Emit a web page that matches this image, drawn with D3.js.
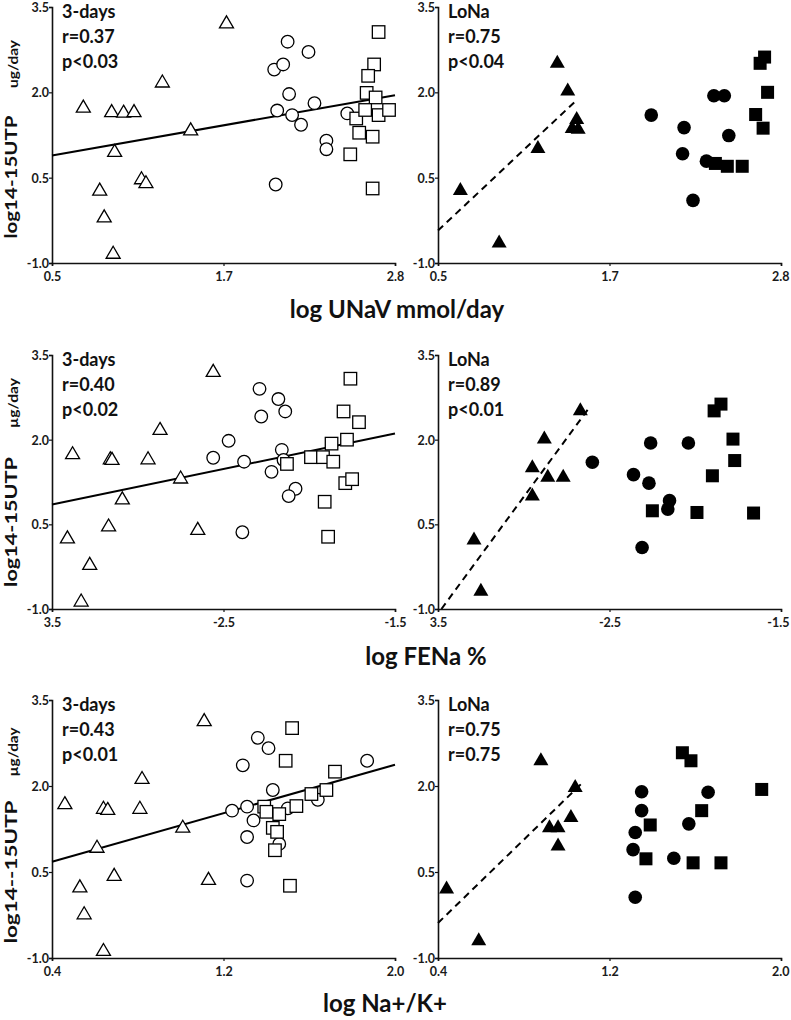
<!DOCTYPE html>
<html><head><meta charset="utf-8">
<script src="https://cdn.jsdelivr.net/npm/d3@7"></script>
<style>body{margin:0;background:#fff}svg{display:block}</style>
</head><body>
<svg id="chart" width="791" height="1020"></svg>
<script>
// ---------- shared y axis ----------
const yTicks = [-1, 0.5, 2, 3.5];
const yTickLabels = ["-1.0", "0.5", "2.0", "3.5"];

// ---------- row 1 : log UNaV ----------
const unavDomain = [0.5, 2.8];
const unavTicks = [0.5, 1.65, 2.8];
const unavTickLabels = ["0.5", "1.7", "2.8"];
const unav3dTriangles = [[0.71,1.75],[0.90,1.67],[0.98,1.66],[1.05,1.67],[1.24,2.19],[1.43,1.35],[1.67,3.23],[0.92,0.97],[1.10,0.49],[1.13,0.42],[0.82,0.29],[0.85,-0.18],[0.91,-0.82]];
const unav3dCircles = [[1.99,2.40],[2.05,2.49],[2.08,2.89],[2.22,2.71],[2.09,1.97],[2.01,1.68],[2.11,1.60],[2.26,1.81],[2.17,1.43],[2.34,1.15],[2.34,1.00],[2.48,1.63],[2.00,0.38]];
const unav3dSquares = [[2.69,3.06],[2.66,2.49],[2.62,2.29],[2.61,1.99],[2.67,1.91],[2.54,1.54],[2.60,1.69],[2.69,1.60],[2.76,1.69],[2.56,1.29],[2.65,1.22],[2.50,0.91],[2.65,0.31]];
const unav3dFit = [[0.5,0.89],[2.8,1.95]];
const unav3dText = ["3-days", "r=0.37", "p<0.03"];
const unavLoNaTriangles = [[1.30,2.53],[1.37,2.04],[1.43,1.54],[1.40,1.38],[1.44,1.37],[1.17,1.03],[0.65,0.29],[0.91,-0.63]];
const unavLoNaCircles = [[1.93,1.60],[2.15,1.38],[2.14,0.92],[2.35,1.94],[2.42,1.94],[2.45,1.24],[2.30,0.79],[2.21,0.10]];
const unavLoNaSquares = [[2.69,2.62],[2.66,2.51],[2.71,2.00],[2.63,1.61],[2.68,1.37],[2.36,0.75],[2.44,0.70],[2.54,0.70]];
const unavLoNaFit = [[0.5,-0.43],[1.42,1.84]];
const unavLoNaText = ["LoNa", "r=0.75", "p<0.04"];

// ---------- row 2 : log FENa ----------
const fenaDomain = [-3.5, -1.5];
const fenaTicks = [-3.5, -2.5, -1.5];
const fenaTickLabels = ["3.5", "-2.5", "-1.5"];
const fena3dTriangles = [[-2.56,3.22],[-3.38,1.76],[-3.16,1.67],[-3.15,1.66],[-2.94,1.67],[-2.87,2.19],[-2.75,1.33],[-3.09,0.96],[-3.17,0.48],[-2.65,0.42],[-3.41,0.27],[-3.28,-0.20],[-3.33,-0.85]];
const fena3dCircles = [[-2.29,2.90],[-2.18,2.72],[-2.14,2.50],[-2.28,2.41],[-2.47,1.98],[-2.56,1.68],[-2.38,1.61],[-2.16,1.82],[-2.15,1.64],[-2.22,1.43],[-2.08,1.13],[-2.12,1.00],[-2.39,0.36]];
const fena3dSquares = [[-1.76,3.08],[-1.80,2.50],[-1.71,2.31],[-1.78,2.00],[-1.87,1.93],[-2.13,1.57],[-1.99,1.69],[-1.92,1.69],[-1.86,1.61],[-1.79,1.23],[-1.75,1.30],[-1.91,0.90],[-1.89,0.28]];
const fena3dFit = [[-3.5,0.85],[-1.5,2.11]];
const fena3dText = ["3-days", "r=0.40", "p<0.02"];
const fenaLoNaTriangles = [[-2.67,2.53],[-2.88,2.03],[-2.95,1.52],[-2.86,1.35],[-2.77,1.35],[-2.95,1.02],[-3.29,0.24],[-3.25,-0.67]];
const fenaLoNaCircles = [[-2.60,1.60],[-2.26,1.94],[-2.04,1.94],[-2.36,1.38],[-2.27,1.23],[-2.15,0.92],[-2.16,0.77],[-2.31,0.09]];
const fenaLoNaSquares = [[-1.85,2.63],[-1.89,2.51],[-1.78,2.01],[-1.77,1.63],[-1.90,1.36],[-2.25,0.74],[-1.99,0.71],[-1.66,0.70]];
const fenaLoNaFit = [[-3.48,-1.0],[-2.62,2.56]];
const fenaLoNaText = ["LoNa", "r=0.89", "p<0.01"];

// ---------- row 3 : log Na+/K+ ----------
const nakDomain = [0.4, 2.0];
const nakTicks = [0.4, 1.2, 2.0];
const nakTickLabels = ["0.4", "1.2", "2.0"];
const nak3dTriangles = [[1.11,3.15],[0.46,1.70],[0.64,1.62],[0.66,1.60],[0.81,1.62],[0.82,2.14],[1.01,1.29],[0.61,0.94],[0.69,0.45],[1.13,0.38],[0.53,0.25],[0.55,-0.22],[0.64,-0.86]];
const nak3dCircles = [[1.36,2.84],[1.41,2.66],[1.29,2.36],[1.87,2.44],[1.43,1.93],[1.24,1.57],[1.31,1.64],[1.34,1.40],[1.31,1.11],[1.46,0.99],[1.64,1.76],[1.50,1.61],[1.31,0.35]];
const nak3dSquares = [[1.52,3.01],[1.49,2.44],[1.72,2.25],[1.68,1.93],[1.61,1.86],[1.54,1.65],[1.39,1.64],[1.40,1.55],[1.46,1.51],[1.43,1.27],[1.45,1.20],[1.44,0.88],[1.51,0.26]];
const nak3dFit = [[0.4,0.68],[2.0,2.37]];
const nak3dText = ["3-days", "r=0.43", "p<0.01"];
const nakLoNaTriangles = [[0.88,2.46],[1.04,1.99],[1.02,1.47],[0.92,1.29],[0.96,1.29],[0.96,0.97],[0.44,0.22],[0.59,-0.68]];
const nakLoNaCircles = [[1.35,1.90],[1.35,1.57],[1.32,1.19],[1.31,0.89],[1.32,0.06],[1.57,1.34],[1.66,1.89],[1.50,0.74]];
const nakLoNaSquares = [[1.54,2.58],[1.58,2.44],[1.91,1.94],[1.63,1.57],[1.39,1.32],[1.37,0.73],[1.59,0.66],[1.72,0.66]];
const nakLoNaFit = [[0.4,-0.39],[1.08,2.08]];
const nakLoNaText = ["LoNa", "r=0.75", "r=0.75"];

// ---------- titles ----------
const xTitles = ["log UNaV mmol/day", "log FENa %", "log Na+/K+"];
const yTitles = ["log14-15UTP", "log14-15UTP", "log14--15UTP"];
const yUnits = ["ug/day", "\u00b5g/day", "\u00b5g/day"];

// ---------- assemble ----------
const rowsData = [
  {domain: unavDomain, ticks: unavTicks, tickLabels: unavTickLabels,
   left: {tri: unav3dTriangles, cir: unav3dCircles, sq: unav3dSquares, fit: unav3dFit, text: unav3dText},
   right: {tri: unavLoNaTriangles, cir: unavLoNaCircles, sq: unavLoNaSquares, fit: unavLoNaFit, text: unavLoNaText}},
  {domain: fenaDomain, ticks: fenaTicks, tickLabels: fenaTickLabels,
   left: {tri: fena3dTriangles, cir: fena3dCircles, sq: fena3dSquares, fit: fena3dFit, text: fena3dText},
   right: {tri: fenaLoNaTriangles, cir: fenaLoNaCircles, sq: fenaLoNaSquares, fit: fenaLoNaFit, text: fenaLoNaText}},
  {domain: nakDomain, ticks: nakTicks, tickLabels: nakTickLabels,
   left: {tri: nak3dTriangles, cir: nak3dCircles, sq: nak3dSquares, fit: nak3dFit, text: nak3dText},
   right: {tri: nakLoNaTriangles, cir: nakLoNaCircles, sq: nakLoNaSquares, fit: nakLoNaFit, text: nakLoNaText}}
];

// layout (pixels)
const rowY = [[263, 7], [609, 355], [958, 700]];
const colX = [[52, 395], [438, 781]];
const xTitlePos = [[397, 318], [426, 665], [385, 1012]];
const yTitleCenter = [177, 522, 872];
const yTitleLen = [123, 130, 143];
const yUnitCenter = [64, 403, 752];
const yUnitLen = [48, 50, 49];

const FONT = "Lato, 'Open Sans', sans-serif";
const svg = d3.select("#chart");

const triOpen = "M0,-6.5L7,5.5L-7,5.5Z";
const triFill = "M0,-7.5L7.5,5.5L-7.5,5.5Z";

rowsData.forEach((row, ri) => {
  ["left", "right"].forEach((side, ci) => {
    const p = row[side];
    const filled = side === "right";
    const x = d3.scaleLinear().domain(row.domain).range(colX[ci]);
    const y = d3.scaleLinear().domain([-1, 3.5]).range(rowY[ri]);
    const g = svg.append("g");

    // y axis
    const ya = d3.axisLeft(y).tickValues(yTicks).tickSize(3)
      .tickFormat((d, i) => yTickLabels[i]);
    const yg = g.append("g").attr("transform", `translate(${colX[ci][0]},0)`).call(ya);
    yg.select(".domain").attr("stroke", "#111").attr("stroke-width", 1.6);
    yg.selectAll(".tick line").attr("stroke", "#111").attr("stroke-width", 1.2);
    yg.selectAll(".tick text").attr("font-family", FONT).attr("font-weight", "bold")
      .attr("font-size", 12.5).attr("fill", "#1a1a1a").attr("x", -3).attr("dy", "0.36em");

    // x axis
    const xa = d3.axisBottom(x).tickValues(row.ticks).tickSize(3)
      .tickFormat((d, i) => row.tickLabels[i]);
    const xg = g.append("g").attr("transform", `translate(0,${rowY[ri][0]})`).call(xa);
    xg.select(".domain").attr("stroke", "#111").attr("stroke-width", 1.6);
    xg.selectAll(".tick line").attr("stroke", "#111").attr("stroke-width", 1.2);
    xg.selectAll(".tick text").attr("font-family", FONT).attr("font-weight", "bold")
      .attr("font-size", 12.5).attr("fill", "#1a1a1a").attr("y", 9);
    if (filled) {
      // keep the last label inside the page
      xg.selectAll(".tick text").filter((d, i) => i === row.ticks.length - 1)
        .attr("text-anchor", "end").attr("x", 8);
    }

    // fit line
    g.append("line")
      .attr("x1", x(p.fit[0][0])).attr("y1", y(p.fit[0][1]))
      .attr("x2", x(p.fit[1][0])).attr("y2", y(p.fit[1][1]))
      .attr("stroke", "#000").attr("stroke-width", 2)
      .attr("stroke-dasharray", filled ? "7,5" : null);

    const fill = filled ? "#000" : "#fff";
    const sw = filled ? 0 : 1.3;

    g.selectAll("path.tri").data(p.tri).join("path").attr("class", "tri")
      .attr("d", filled ? triFill : triOpen)
      .attr("transform", d => `translate(${x(d[0])},${y(d[1])})`)
      .attr("fill", fill).attr("stroke", "#000").attr("stroke-width", sw);

    g.selectAll("circle.cir").data(p.cir).join("circle").attr("class", "cir")
      .attr("cx", d => x(d[0])).attr("cy", d => y(d[1]))
      .attr("r", filled ? 6.8 : 6.3)
      .attr("fill", fill).attr("stroke", "#000").attr("stroke-width", sw);

    const s = filled ? 13 : 12.5;
    g.selectAll("rect.sq").data(p.sq).join("rect").attr("class", "sq")
      .attr("x", d => x(d[0]) - s / 2).attr("y", d => y(d[1]) - s / 2)
      .attr("width", s).attr("height", s)
      .attr("fill", fill).attr("stroke", "#000").attr("stroke-width", sw);

    // annotation
    g.selectAll("text.ann").data(p.text).join("text").attr("class", "ann")
      .attr("x", colX[ci][0] + 10)
      .attr("y", (d, i) => rowY[ri][1] + 11 + i * 25)
      .attr("font-family", FONT).attr("font-weight", "bold")
      .attr("font-size", 18).attr("fill", "#111")
      .text(d => d);
  });

  // x title
  svg.append("text")
    .attr("x", xTitlePos[ri][0]).attr("y", xTitlePos[ri][1])
    .attr("text-anchor", "middle")
    .attr("font-family", FONT).attr("font-weight", "bold")
    .attr("font-size", 24).attr("fill", "#111")
    .text(xTitles[ri]);

  // y title
  svg.append("text")
    .attr("transform", `translate(17,${yTitleCenter[ri]}) rotate(-90)`)
    .attr("text-anchor", "middle")
    .attr("font-family", FONT).attr("font-weight", "bold")
    .attr("font-size", 17).attr("fill", "#111")
    .attr("textLength", yTitleLen[ri]).attr("lengthAdjust", "spacingAndGlyphs")
    .text(yTitles[ri]);

  // y unit
  svg.append("text")
    .attr("transform", `translate(18,${yUnitCenter[ri]}) rotate(-90)`)
    .attr("text-anchor", "middle")
    .attr("font-family", FONT).attr("font-weight", "bold")
    .attr("font-size", 13).attr("fill", "#111")
    .attr("textLength", yUnitLen[ri]).attr("lengthAdjust", "spacingAndGlyphs")
    .text(yUnits[ri]);
});
</script>
</body></html>
